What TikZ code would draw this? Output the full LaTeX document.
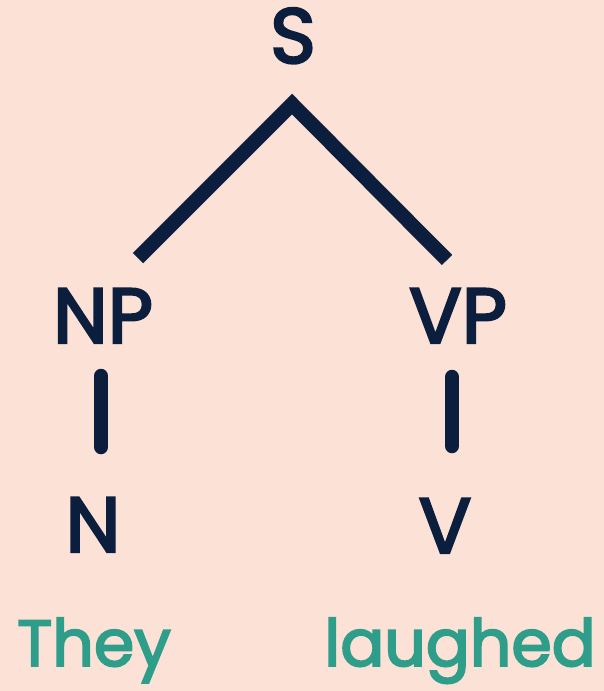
\documentclass[tikz,border=0pt]{standalone}
\usepackage{fontspec}
\setmainfont{Poppins}
\newfontfamily\treefont{Poppins}[FakeBold=3]
\definecolor{peach}{HTML}{FCE1D6}
\definecolor{navy}{HTML}{0C1E3E}
\definecolor{teal}{HTML}{2E9E8B}
\tikzset{
    cat/.style = {anchor=base, inner sep=0pt, text=navy,
        font=\treefont\fontsize{78}{80}\selectfont},
    word/.style = {anchor=base, inner sep=0pt, text=teal, text depth=15pt,
        font=\treefont\fontsize{65}{70}\selectfont},
    branch/.style = {draw=navy, line width=14.5pt, line join=miter},
    bar/.style = {draw=navy, line width=14.5pt, line cap=round}
}
\begin{document}
\begin{tikzpicture}[x=1pt, y=-1pt]
    \fill[peach] (0,0) rectangle (604,691);
    \useasboundingbox (0,0) rectangle (604,691);

    \node[cat] (S) at (293,63) {S};
    \node[cat] (NP) at (103,343) {NP};
    \node[cat] (VP) at (458,343) {VP};
    \node[cat] (N) at (93,552) {N};
    \node[cat] (V) at (445,553) {V};
    \node[word] (they) at (94,666) {They};
    \node[word] (laughed) at (460,666) {laughed};

    \draw[branch] ([shift={(35,-85)}]NP.base) -- ([shift={(-1,41)}]S.base)
        -- ([shift={(-11,-83)}]VP.base);
    \draw[bar] ([shift={(-2,33)}]NP.base) -- ([shift={(8,-105)}]N.base);
    \draw[bar] ([shift={(-6,34)}]VP.base) -- ([shift={(7,-107)}]V.base);
\end{tikzpicture}
\end{document}
